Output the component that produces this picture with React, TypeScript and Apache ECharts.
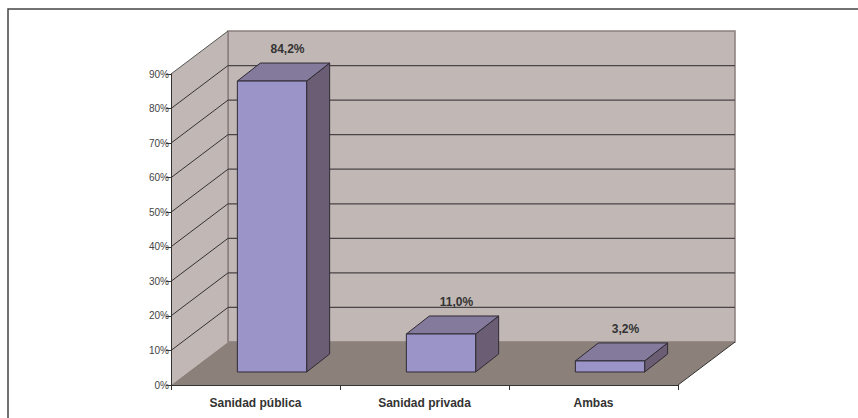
import React, { useEffect, useRef } from "react";
import * as echarts from "echarts";

const categories = ["Sanidad pública", "Sanidad privada", "Ambas"];
const values = [84.2, 11.0, 3.2];
const valueLabels = ["84,2%", "11,0%", "3,2%"];
const yMax = 90;
const yStep = 10;
const gridValues = [10, 20, 30, 40, 50, 60, 70, 80];

const FONT = "'Liberation Sans', Arial, sans-serif";
const DX = 57;
const DY = 43;

export default function App() {
  const ref = useRef<HTMLDivElement>(null);
  useEffect(() => {
    if (!ref.current) return;
    const chart = echarts.init(ref.current, undefined, { renderer: "svg" });

    const wallItem = (params: any, api: any) => {
      const cs = params.coordSys;
      const L = cs.x;
      const R = cs.x + cs.width;
      const B = api.coord([0, 0])[1];
      const T = api.coord([0, yMax])[1];
      const children: any[] = [];
      children.push({
        type: "rect",
        shape: { x: L + DX, y: T - DY, width: R - L, height: B - T },
        style: { fill: "#c1b7b4", stroke: "#8a7f7e", lineWidth: 1.5 },
      });
      children.push({
        type: "polygon",
        shape: { points: [[L, T], [L + DX, T - DY], [L + DX, B - DY], [L, B]] },
        style: { fill: "#c1b7b4", stroke: "none" },
      });
      children.push({
        type: "line",
        shape: { x1: L + DX, y1: T - DY, x2: L + DX, y2: B - DY },
        style: { stroke: "#8a7f7e", lineWidth: 1.5 },
      });
      children.push({
        type: "polygon",
        shape: { points: [[L, B], [L + DX, B - DY], [R + DX, B - DY], [R, B]] },
        style: { fill: "#8c807b", stroke: "none" },
      });
      children.push({
        type: "line",
        shape: { x1: L, y1: T, x2: L + DX, y2: T - DY },
        style: { stroke: "#555", lineWidth: 1 },
      });
      children.push({
        type: "line",
        shape: { x1: R, y1: B, x2: R + DX, y2: B - DY },
        style: { stroke: "#333", lineWidth: 1 },
      });
      gridValues.forEach((v) => {
        const y = api.coord([0, v])[1];
        children.push({
          type: "line",
          shape: { x1: L, y1: y, x2: L + DX, y2: y - DY },
          style: { stroke: "#333", lineWidth: 1 },
        });
        children.push({
          type: "line",
          shape: { x1: L + DX, y1: y - DY, x2: R + DX, y2: y - DY },
          style: { stroke: "#4a4446", lineWidth: 1.2 },
        });
      });
      return { type: "group", children };
    };

    const barItem = (params: any, api: any) => {
      const idx = api.value(0);
      const val = api.value(1);
      const p0 = api.coord([idx, 0]);
      const p1 = api.coord([idx, val]);
      const catW = api.size([1, 0])[0];
      const w = catW * 0.41;
      const fx = 16.5, fy = -13;
      const bx = 39.5, by = -31;
      const xl = p0[0] - w / 2 + fx;
      const xr = p0[0] + w / 2 + fx;
      const yb = p0[1] + fy;
      const yt = p1[1] + fy;
      const sdx = bx - fx, sdy = by - fy;
      const stroke = { stroke: "#2e2a33", lineWidth: 1 };
      const tcx = (xl + xr) / 2 + sdx / 2;
      const tcy = yt + sdy;
      return {
        type: "group",
        children: [
          {
            type: "polygon",
            shape: { points: [[xr, yt], [xr + sdx, yt + sdy], [xr + sdx, yb + sdy], [xr, yb]] },
            style: { fill: "#6b5d73", ...stroke },
          },
          {
            type: "polygon",
            shape: { points: [[xl, yt], [xr, yt], [xr + sdx, yt + sdy], [xl + sdx, yt + sdy]] },
            style: { fill: "#837a9c", ...stroke },
          },
          {
            type: "rect",
            shape: { x: xl, y: yt, width: xr - xl, height: yb - yt },
            style: { fill: "#9b94c8", ...stroke },
          },
          {
            type: "text",
            x: tcx + 4,
            y: tcy - 14,
            style: {
              text: valueLabels[idx],
              align: "center",
              verticalAlign: "middle",
              fill: "#333",
              fontSize: 12,
              fontWeight: "bold",
              fontFamily: FONT,
            },
          },
        ],
      };
    };

    chart.setOption({
      animation: false,
      grid: { left: 171, right: 180, top: 74, bottom: 33 },
      xAxis: {
        type: "category",
        data: categories,
        z: 10,
        axisLine: { lineStyle: { color: "#333", width: 1 } },
        axisTick: { show: true, length: 5, lineStyle: { color: "#333" } },
        axisLabel: {
          color: "#333",
          fontSize: 12,
          fontWeight: "bold",
          fontFamily: FONT,
          margin: 12,
        },
      },
      yAxis: {
        type: "value",
        min: 0,
        max: yMax,
        interval: yStep,
        z: 10,
        axisLine: { show: true, lineStyle: { color: "#333", width: 1 } },
        axisTick: { show: true, length: 5, lineStyle: { color: "#333" } },
        splitLine: { show: false },
        axisLabel: {
          color: "#444",
          fontSize: 10,
          fontFamily: FONT,
          margin: 2,
          formatter: (v: number) => `${v}%`,
        },
      },
      graphic: [
        {
          type: "rect",
          x: 8,
          y: 9,
          shape: { x: 0, y: 0, width: 900, height: 500 },
          style: { fill: "none", stroke: "#444", lineWidth: 1.5 },
          silent: true,
          z: 100,
        },
      ],
      series: [
        {
          type: "custom",
          z: 1,
          renderItem: wallItem,
          data: [[0, 0]],
          silent: true,
        },
        {
          type: "custom",
          z: 2,
          renderItem: barItem,
          data: values.map((v, i) => [i, v]),
          silent: true,
        },
      ],
    });
    return () => chart.dispose();
  }, []);
  return (
    <div
      ref={ref}
      style={{ position: "fixed", left: 0, top: 0, width: 858, height: 418, background: "#fff" }}
    />
  );
}
